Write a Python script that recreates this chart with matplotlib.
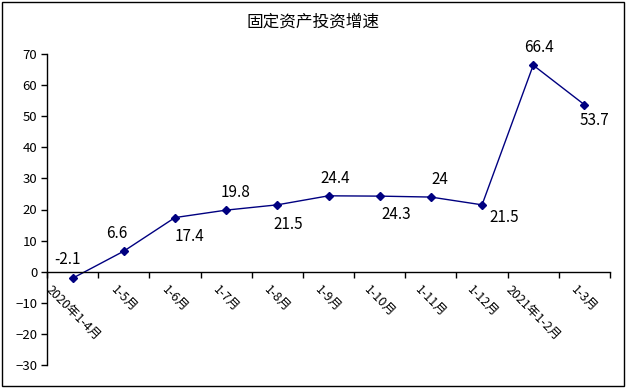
import matplotlib
matplotlib.use("Agg")
import matplotlib.pyplot as plt
import numpy as np
from matplotlib.patches import Rectangle

plt.rcParams["font.family"] = ["Noto Sans CJK SC", "DejaVu Sans"]

# 数据
months = ["2020年1-4月", "1-5月", "1-6月", "1-7月", "1-8月", "1-9月",
          "1-10月", "1-11月", "1-12月", "2021年1-2月", "1-3月"]
growth = [-2.1, 6.6, 17.4, 19.8, 21.5, 24.4, 24.3, 24, 21.5, 66.4, 53.7]
labels = ["-2.1", "6.6", "17.4", "19.8", "21.5", "24.4", "24.3", "24", "21.5", "66.4", "53.7"]
# 标签相对数据点的偏移(像素)
offs = [(-5, 19), (-7, 18), (15, -19), (9, 18), (11, -20), (7, 17),
        (17, -18), (9, 18), (22, -13), (6, 18), (10, -16)]

fig = plt.figure(figsize=(6.26, 3.88), dpi=100)
ax = fig.add_axes([47/626, 1-365/388, (610-47)/626, (365-54)/388])

x = np.arange(len(months))
ax.plot(x, growth, color="#000080", lw=1, marker="D", ms=4.5)

for xi, yi, t, (dx, dy) in zip(x, growth, labels, offs):
    ax.annotate(t, (xi, yi), xytext=(dx*0.72, dy*0.72), textcoords="offset points",
                ha="center", va="center", fontsize=11, color="black")

ax.set_xlim(-0.5, len(months)-0.5)
ax.set_ylim(-30, 70)
ax.set_yticks(np.arange(-30, 71, 10))
ax.tick_params(axis="y", direction="out", length=4, width=1, labelsize=9.5, pad=3)

ax.spines["top"].set_visible(False)
ax.spines["right"].set_visible(False)
ax.spines["bottom"].set_position(("data", 0))
for s in ("left", "bottom"):
    ax.spines[s].set_linewidth(1)

ax.set_xticks(x)
ax.set_xticklabels(months, rotation=-45, ha="center", va="top", fontsize=9)
ax.set_xticks(np.arange(-0.5, len(months), 1), minor=True)
ax.tick_params(axis="x", which="major", length=0, pad=8)
ax.tick_params(axis="x", which="minor", direction="out", length=4, width=1)

fig.text(0.5, 1-22/388, "固定资产投资增速", ha="center", va="center", fontsize=12)

fig.patches.append(Rectangle((2/626, 2/388), 622/626, 384/388, transform=fig.transFigure,
                             fill=False, edgecolor="black", lw=1))

fig.savefig("out.png", dpi=100)
